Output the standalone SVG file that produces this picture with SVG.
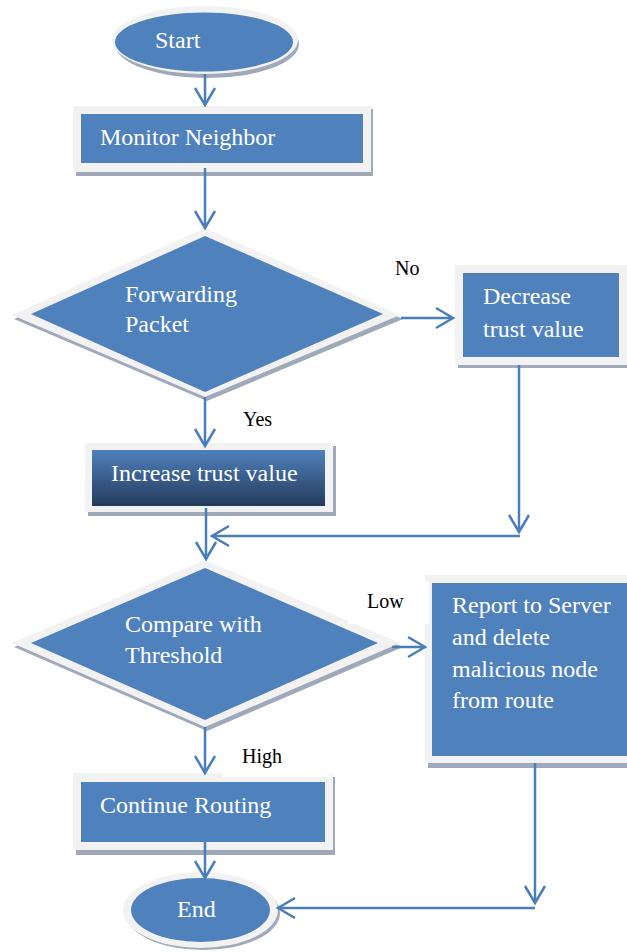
<svg xmlns="http://www.w3.org/2000/svg" width="627" height="952" viewBox="0 0 627 952">
  <style>
    .fill { fill: #4F81BD; }
    .rim { fill: #F2F2F2; }
    .shade { fill: #9FA9B9; }
    .txt { font-family: "Liberation Serif", "Times New Roman", serif; font-size: 24px; fill: #FFFFFF; }
    .lbl { font-family: "Liberation Serif", "Times New Roman", serif; font-size: 20px; fill: #000000; }
    .edge { fill: none; stroke: #4A7EBB; stroke-width: 2.5; }
  </style>
  <defs>
    <marker id="open-arrow" markerUnits="userSpaceOnUse" markerWidth="24" markerHeight="26" viewBox="-20 -13 24 26" refX="0" refY="0" orient="auto">
      <path d="M-17,-10 L0,0 L-17,10" fill="none" stroke="#4A7EBB" stroke-width="2.5"/>
    </marker>
    <linearGradient id="dark-blue" x1="0" y1="0" x2="0" y2="1">
      <stop offset="0" stop-color="#4F81BD"/>
      <stop offset="1" stop-color="#243A5B"/>
    </linearGradient>
  </defs>

  <rect width="627" height="952" fill="#FFFFFF"/>

  <!-- Start -->
  <g id="start">
    <ellipse class="shade" cx="207" cy="44" rx="92" ry="34"/>
    <ellipse class="rim" cx="205" cy="40" rx="93" ry="34"/>
    <ellipse class="fill" cx="204" cy="42" rx="89" ry="29.5"/>
    <text class="txt" x="155" y="48">Start</text>
  </g>

  <!-- Monitor Neighbor -->
  <g id="monitor">
    <rect class="shade" x="76" y="109" width="297" height="67"/>
    <rect class="rim" x="73" y="106" width="298" height="66"/>
    <rect class="fill" x="81" y="114" width="282" height="49"/>
    <text class="txt" x="100" y="145">Monitor Neighbor</text>
  </g>

  <!-- Forwarding Packet decision -->
  <g id="forwarding">
    <polygon class="shade" points="207,232 403,319 207,401 14,319"/>
    <polygon class="rim" points="205,228 400,315 205,397 12,315"/>
    <polygon class="fill" points="205,236 383,314 205,392 31,314"/>
    <text class="txt" x="125" y="302">Forwarding</text>
    <text class="txt" x="125" y="332">Packet</text>
  </g>

  <!-- Decrease trust value -->
  <g id="decrease">
    <rect class="shade" x="458" y="268" width="169" height="100"/>
    <rect class="rim" x="455" y="265" width="172" height="100"/>
    <rect class="fill" x="463" y="273" width="156" height="84"/>
    <text class="txt" x="483" y="304">Decrease</text>
    <text class="txt" x="483" y="337">trust value</text>
  </g>

  <!-- Increase trust value -->
  <g id="increase">
    <rect class="shade" x="88" y="446" width="248" height="70"/>
    <rect class="rim" x="85" y="443" width="248" height="69"/>
    <rect x="92" y="450" width="233" height="56" fill="url(#dark-blue)"/>
    <text class="txt" x="111" y="481">Increase trust value</text>
  </g>

  <!-- Compare with Threshold decision -->
  <g id="compare">
    <polygon class="shade" points="207,564 403,647 207,731 14,647"/>
    <polygon class="rim" points="205,560 400,643 205,727 12,643"/>
    <polygon class="fill" points="205,568 378,643 205,720 31,643"/>
    <text class="txt" x="125" y="632">Compare with</text>
    <text class="txt" x="125" y="663">Threshold</text>
  </g>

  <!-- Report to Server -->
  <g id="report">
    <rect class="shade" x="428" y="578" width="199" height="190"/>
    <rect class="rim" x="425" y="575" width="202" height="188"/>
    <rect class="fill" x="432" y="583" width="195" height="173"/>
    <text class="txt" x="452" y="613">Report to Server</text>
    <text class="txt" x="452" y="645">and delete</text>
    <text class="txt" x="452" y="677">malicious node</text>
    <text class="txt" x="452" y="708">from route</text>
  </g>

  <!-- Continue Routing -->
  <g id="continue">
    <rect class="shade" x="76" y="777" width="259" height="78"/>
    <rect class="rim" x="73" y="773" width="260" height="77"/>
    <rect class="fill" x="81" y="782" width="244" height="60"/>
    <text class="txt" x="100" y="813">Continue Routing</text>
  </g>

  <!-- End -->
  <g id="end">
    <ellipse class="shade" cx="203" cy="913" rx="77" ry="37"/>
    <ellipse class="rim" cx="200.5" cy="910" rx="77.5" ry="38"/>
    <ellipse class="fill" cx="200.5" cy="910" rx="69.5" ry="32"/>
    <text class="txt" x="177" y="917">End</text>
  </g>

  <!-- Branch labels on white backing -->
  <g id="labels">
    <rect x="222" y="400" width="70" height="40" fill="#FFFFFF"/>
    <text class="lbl" x="243" y="426">Yes</text>
    <text class="lbl" x="395" y="275">No</text>
    <rect x="348" y="582" width="81" height="42" fill="#FFFFFF"/>
    <text class="lbl" x="367" y="608">Low</text>
    <rect x="222" y="740" width="108" height="37" fill="#FFFFFF"/>
    <text class="lbl" x="242" y="763">High</text>
  </g>

  <!-- Connectors -->
  <g id="connectors">
    <path class="edge" d="M205,74 V105" marker-end="url(#open-arrow)"/>
    <path class="edge" d="M205,168 V228" marker-end="url(#open-arrow)"/>
    <path class="edge" d="M401,318 H453" marker-end="url(#open-arrow)"/>
    <path class="edge" d="M205,397 V446" marker-end="url(#open-arrow)"/>
    <path class="edge" d="M519,365 V532" marker-end="url(#open-arrow)"/>
    <path class="edge" d="M520,536 H212" marker-end="url(#open-arrow)"/>
    <path class="edge" d="M206,508 V559" marker-end="url(#open-arrow)"/>
    <path class="edge" d="M392,647 H425" marker-end="url(#open-arrow)"/>
    <path class="edge" d="M205,727 V773" marker-end="url(#open-arrow)"/>
    <path class="edge" d="M205,842 V878" marker-end="url(#open-arrow)"/>
    <path class="edge" d="M535,763 V903" marker-end="url(#open-arrow)"/>
    <path class="edge" d="M535,908 H278" marker-end="url(#open-arrow)"/>
  </g>
</svg>
